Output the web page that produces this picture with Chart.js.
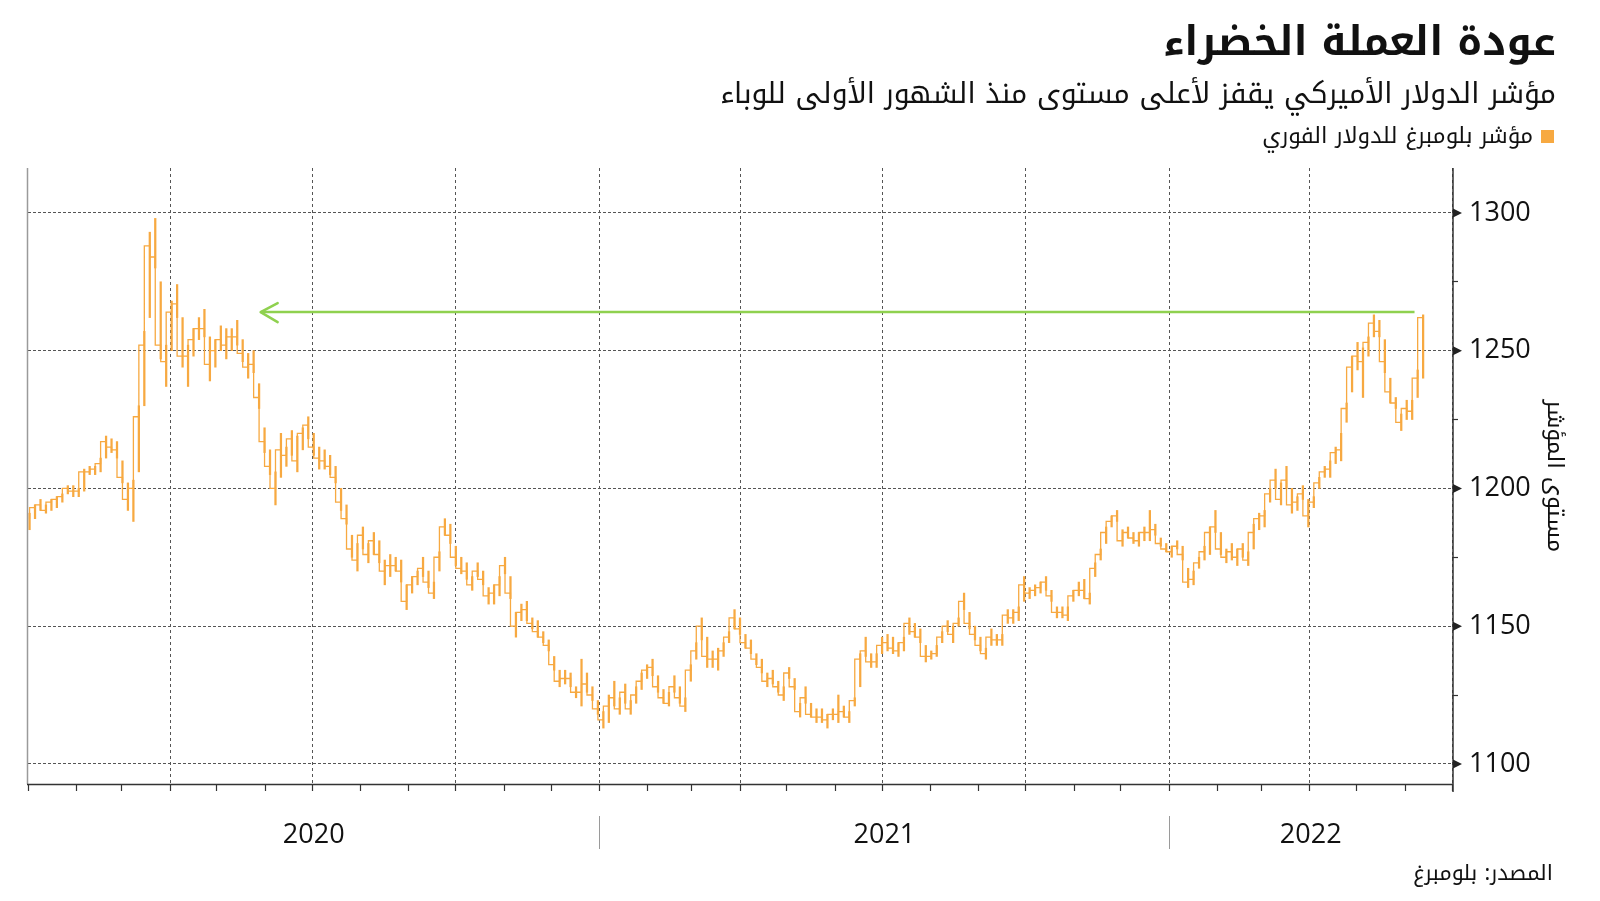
<!DOCTYPE html>
<html lang="ar">
<head>
<meta charset="utf-8">
<script src="https://cdn.jsdelivr.net/npm/chart.js@4.4.1/dist/chart.umd.min.js"></script>
<style>
  html, body { margin:0; padding:0; background:#fff; width:1600px; height:901px; overflow:hidden; }
  #wrap { position:relative; width:1600px; height:901px; }
  #c { position:absolute; left:0; top:0; }
  .t { position:absolute; direction:rtl; white-space:nowrap; line-height:1; color:#111;
       font-family:"Noto Kufi Arabic","Noto Sans Arabic","DejaVu Sans",sans-serif; }
  #title { font-weight:700; font-size:44px; }
  #sub { font-size:28px; }
  #legend { font-size:19px; }
  #source { font-size:20px; }
  #sw { position:absolute; width:13px; height:13px; background:#f7a941; }
</style>
</head>
<body>
<div id="wrap">
  <canvas id="c" width="1600" height="901"></canvas>
  <div id="title" class="t">عودة العملة الخضراء</div>
  <div id="sub" class="t">مؤشر الدولار الأميركي يقفز لأعلى مستوى منذ الشهور الأولى للوباء</div>
  <div id="sw"></div>
  <div id="legend" class="t">مؤشر بلومبرغ للدولار الفوري</div>
  <div id="source" class="t">المصدر: بلومبرغ</div>
</div>
<script>
// ---------------- DATA (Bloomberg Dollar Spot Index, half-weekly bars from 2 Jan 2020) ----------------
const seriesName = 'مؤشر بلومبرغ للدولار الفوري';
const firstSampleDate = '2020-01-02';
const sampleStepDays = 3.5;
const lows = [
1185,1189,1192,1191,1192,1193,1195,1198,1197,1197,1199,1205,1205,1206,1211,1213,1211,1202,1192,1188,
1206,1230,1262,1280,1247,1237,1250,1262,1244,1237,1248,1254,1255,1239,1244,1250,1247,1250,1252,1246,
1240,1242,1229,1213,1205,1194,1204,1208,1212,1206,1214,1218,1212,1207,1207,1205,1202,1192,1187,1175,
1170,1178,1173,1176,1173,1165,1168,1170,1166,1156,1162,1165,1168,1164,1160,1170,1183,1180,1172,1169,
1167,1163,1168,1165,1158,1158,1161,1169,1160,1146,1152,1152,1149,1146,1144,1141,1134,1128,1129,1128,
1124,1121,1126,1123,1118,1113,1115,1121,1118,1122,1118,1122,1127,1131,1132,1126,1122,1121,1126,1122,
1119,1130,1138,1145,1135,1135,1134,1139,1144,1149,1147,1142,1140,1136,1133,1128,1129,1126,1123,1131,
1127,1117,1122,1117,1115,1115,1113,1116,1115,1117,1115,1121,1128,1139,1135,1135,1140,1141,1140,1139,
1141,1147,1146,1144,1137,1138,1139,1144,1148,1144,1150,1156,1149,1145,1141,1138,1143,1143,1143,1151,
1151,1152,1159,1160,1161,1162,1163,1159,1153,1153,1152,1159,1161,1160,1158,1168,1174,1180,1186,1188,
1179,1182,1180,1179,1181,1181,1183,1179,1177,1175,1178,1174,1164,1165,1171,1174,1176,1184,1176,1173,
1174,1172,1175,1172,1178,1185,1186,1195,1200,1194,1200,1191,1192,1196,1186,1193,1200,1204,1204,1209,
1210,1224,1235,1243,1233,1248,1255,1255,1242,1231,1229,1221,1225,1225,1233,1240];
const highs = [
1191,1194,1196,1194,1196,1197,1198,1201,1201,1200,1207,1208,1208,1211,1219,1218,1217,1210,1202,1203,
1230,1257,1293,1298,1275,1252,1268,1274,1262,1252,1258,1262,1265,1255,1254,1259,1258,1258,1261,1254,
1249,1250,1238,1222,1214,1206,1220,1215,1221,1219,1222,1226,1220,1215,1214,1212,1208,1200,1194,1183,
1180,1186,1180,1184,1181,1174,1176,1175,1174,1165,1168,1170,1175,1170,1166,1177,1189,1187,1179,1175,
1173,1168,1173,1170,1164,1165,1168,1175,1168,1155,1158,1159,1153,1152,1148,1145,1139,1134,1134,1133,
1128,1138,1133,1128,1123,1119,1125,1130,1124,1129,1123,1128,1133,1136,1138,1132,1127,1126,1132,1128,
1124,1136,1144,1153,1146,1141,1142,1144,1148,1156,1153,1147,1145,1140,1138,1133,1134,1130,1128,1135,
1131,1122,1128,1122,1120,1120,1118,1120,1125,1121,1119,1124,1140,1146,1140,1140,1146,1147,1146,1144,
1146,1153,1151,1149,1143,1141,1143,1148,1152,1150,1153,1162,1155,1150,1146,1142,1149,1147,1147,1156,
1156,1157,1168,1164,1165,1166,1168,1163,1157,1157,1157,1163,1166,1167,1162,1173,1178,1186,1190,1192,
1185,1186,1184,1184,1186,1192,1187,1182,1180,1179,1181,1179,1171,1170,1175,1179,1186,1192,1184,1178,
1180,1178,1180,1177,1187,1191,1192,1200,1207,1202,1208,1200,1197,1201,1196,1197,1204,1208,1210,1215,
1220,1231,1248,1253,1251,1255,1263,1261,1254,1240,1233,1227,1232,1232,1243,1263];
const closes = [
1189,1193,1194,1192,1195,1196,1197,1200,1199,1199,1206,1206,1207,1209,1217,1215,1214,1204,1196,1200,
1226,1252,1288,1284,1252,1246,1264,1267,1248,1248,1254,1258,1258,1245,1250,1254,1252,1255,1255,1249,
1244,1245,1233,1217,1208,1200,1214,1212,1218,1210,1220,1223,1215,1211,1210,1208,1204,1195,1189,1178,
1174,1183,1176,1181,1176,1170,1172,1172,1170,1159,1165,1168,1171,1166,1162,1175,1186,1183,1175,1171,
1170,1165,1170,1167,1161,1162,1165,1172,1162,1150,1155,1156,1151,1148,1146,1143,1136,1130,1131,1131,
1126,1126,1129,1125,1120,1116,1121,1124,1120,1126,1120,1125,1130,1134,1135,1128,1124,1122,1128,1124,
1121,1134,1141,1150,1139,1138,1138,1141,1146,1153,1149,1144,1142,1138,1135,1130,1131,1128,1125,1133,
1128,1119,1124,1118,1117,1117,1116,1118,1118,1119,1117,1123,1138,1141,1137,1137,1143,1144,1142,1141,
1144,1151,1148,1146,1139,1139,1140,1146,1150,1147,1151,1159,1151,1147,1143,1140,1146,1145,1145,1154,
1153,1155,1165,1162,1163,1164,1166,1161,1155,1155,1154,1161,1163,1163,1160,1171,1176,1184,1188,1190,
1181,1184,1182,1181,1184,1184,1185,1180,1178,1177,1179,1176,1166,1167,1173,1177,1184,1186,1178,1175,
1177,1175,1178,1174,1184,1189,1190,1198,1203,1196,1203,1194,1195,1198,1190,1195,1202,1206,1207,1213,
1214,1229,1244,1248,1246,1253,1260,1257,1246,1235,1231,1224,1229,1228,1240,1262];
const yMajorTicks = [1100, 1150, 1200, 1250, 1300];
const yMinorTicks = [1125, 1175, 1225, 1275];
const yearLabels = ['2020', '2021', '2022'];
const yAxisTitle = 'مستوى المؤشر';
const arrowLevel = 1264;
const arrowDays = [149, 888];

// ---------------- derived axis helpers ----------------
const DAY = 86400000;
const origin = Date.UTC(2020, 0, 1);
const dayOf = (y, m, d) => Math.round((Date.UTC(y, m, d) - origin) / DAY);
const axisEnd = dayOf(2022, 6, 1);
const firstDay = Math.round((Date.parse(firstSampleDate) - origin) / DAY);
const sampleDays = lows.map((_, i) => firstDay + i * sampleStepDays);
const monthDays = [], quarterDays = [];
for (let y = 2020; y <= 2022; y++) for (let m = 0; m < 12; m++) {
  const d = dayOf(y, m, 1);
  if (d <= axisEnd) { monthDays.push(d); if (m % 3 === 0 && d > 0) quarterDays.push(d); }
}
const yearStarts = yearLabels.map(y => dayOf(+y, 0, 1));
const yearMids = yearStarts.map((s, i) => (s + (i + 1 < yearStarts.length ? yearStarts[i + 1] : axisEnd)) / 2);

const ORANGE = '#f7a941';
const GREEN = '#8fd14f';
const TICKFONT = "'Open Sans', 'Noto Sans', sans-serif";
const ARFONT = "'Noto Kufi Arabic','Noto Sans Arabic','DejaVu Sans',sans-serif";

const decor = {
  id: 'decor',
  afterDraw(chart) {
    const {ctx, chartArea: a, scales: {x, y}} = chart;
    ctx.save();
    ctx.strokeStyle = '#9a9a9a'; ctx.lineWidth = 1.5;
    ctx.beginPath(); ctx.moveTo(a.left - 0.5, a.top); ctx.lineTo(a.left - 0.5, a.bottom); ctx.stroke();
    ctx.strokeStyle = '#333'; ctx.lineWidth = 1.5;
    ctx.beginPath(); ctx.moveTo(a.left - 1, a.bottom + 0.5); ctx.lineTo(a.right + 1, a.bottom + 0.5); ctx.stroke();
    ctx.beginPath(); ctx.moveTo(a.right + 1, a.top); ctx.lineTo(a.right + 1, a.bottom + 8); ctx.stroke();
    ctx.fillStyle = '#222';
    yMajorTicks.forEach(v => {
      const py = y.getPixelForValue(v);
      ctx.beginPath(); ctx.moveTo(a.right + 1, py - 4.5); ctx.lineTo(a.right + 10, py); ctx.lineTo(a.right + 1, py + 4.5); ctx.closePath(); ctx.fill();
    });
    ctx.strokeStyle = '#9a9a9a'; ctx.lineWidth = 1;
    yearStarts.slice(1).forEach(d => {
      const px = Math.round(x.getPixelForValue(d)) + 0.5;
      ctx.beginPath(); ctx.moveTo(px, a.bottom + 32); ctx.lineTo(px, a.bottom + 65); ctx.stroke();
    });
    const p = chart.getDatasetMeta(0).data[0];
    ctx.strokeStyle = GREEN; ctx.lineWidth = 2.5; ctx.lineCap = 'round'; ctx.lineJoin = 'round';
    ctx.beginPath(); ctx.moveTo(p.x + 17, p.y - 9); ctx.lineTo(p.x, p.y); ctx.lineTo(p.x + 17, p.y + 10); ctx.stroke();
    ctx.restore();
  }
};

new Chart(document.getElementById('c'), {
  type: 'bar',
  data: {
    datasets: [
      { type: 'line', label: 'arrow', data: arrowDays.map(d => ({x: d, y: arrowLevel})),
        borderColor: GREEN, borderWidth: 2.5, pointRadius: 0, order: 0 },
      { type: 'bar', label: seriesName, data: sampleDays.map((d, i) => ({x: d, y: [lows[i], highs[i]]})),
        backgroundColor: ORANGE, borderWidth: 0, barThickness: 1.6, order: 1 },
      { type: 'line', label: seriesName + ' close', data: sampleDays.map((d, i) => ({x: d, y: closes[i]})),
        stepped: 'after', borderColor: ORANGE, borderWidth: 1.3, pointRadius: 0, order: 2 }
    ]
  },
  options: {
    responsive: false, animation: false, devicePixelRatio: 1,
    layout: { padding: { left: 26, top: 168, right: 34, bottom: 37 } },
    plugins: { legend: { display: false }, tooltip: { enabled: false } },
    scales: {
      x: {
        type: 'linear', min: 0, max: axisEnd, offset: false, position: 'bottom',
        afterBuildTicks: s => { s.ticks = monthDays.concat(yearMids).sort((a, b) => a - b).map(v => ({value: v})); },
        afterFit: s => { s.height = 80; },
        grid: {
          offset: false, lineWidth: 1, tickLength: 7, tickWidth: 1.2,
          color: c => (c.tick && quarterDays.includes(c.tick.value)) ? '#555' : 'rgba(0,0,0,0)',
          tickColor: c => (c.tick && monthDays.includes(c.tick.value)) ? '#333' : 'rgba(0,0,0,0)'
        },
        border: { display: false, dash: [3, 3] },
        ticks: {
          autoSkip: false, maxRotation: 0, padding: 28, color: '#111',
          font: { family: "'Liberation Sans Narrow', 'Open Sans', sans-serif", size: 27 },
          callback: v => { const k = yearMids.indexOf(v); return k >= 0 ? yearLabels[k] : ''; }
        }
      },
      y: {
        type: 'linear', position: 'right', min: 1092.7, max: 1316.3,
        afterBuildTicks: s => { s.ticks = yMajorTicks.concat(yMinorTicks).sort((a, b) => a - b).map(v => ({value: v})); },
        afterFit: s => { s.width = 114; },
        grid: {
          lineWidth: 1, tickLength: 6, tickWidth: 1.2,
          color: c => (c.tick && yMajorTicks.includes(c.tick.value)) ? '#555' : 'rgba(0,0,0,0)',
          tickColor: c => (c.tick && yMinorTicks.includes(c.tick.value)) ? '#333' : 'rgba(0,0,0,0)'
        },
        border: { display: false, dash: [3, 2] },
        ticks: {
          autoSkip: false, padding: 11, color: '#111',
          font: { family: TICKFONT, size: 27 },
          callback: v => yMajorTicks.includes(v) ? String(v) : ''
        },
        title: { display: true, text: yAxisTitle, color: '#111', padding: 0,
          font: { family: ARFONT, size: 23 } }
      }
    }
  },
  plugins: [decor]
});

function place(id, right, width, centerY) {
  const el = document.getElementById(id);
  el.style.right = (1600 - right) + 'px';
  const fs = parseFloat(getComputedStyle(el).fontSize);
  const w = el.getBoundingClientRect().width;
  const nf = fs * width / w;
  el.style.fontSize = nf.toFixed(2) + 'px';
  const h = el.getBoundingClientRect().height;
  el.style.top = (centerY - h / 2) + 'px';
}
place('title', 1556, 393, 42);
place('sub', 1556, 836, 94);
place('legend', 1533, 271, 136);
place('source', 1553, 140, 874);
const sw = document.getElementById('sw');
sw.style.left = '1541px'; sw.style.top = '130px';
</script>
</body>
</html>
